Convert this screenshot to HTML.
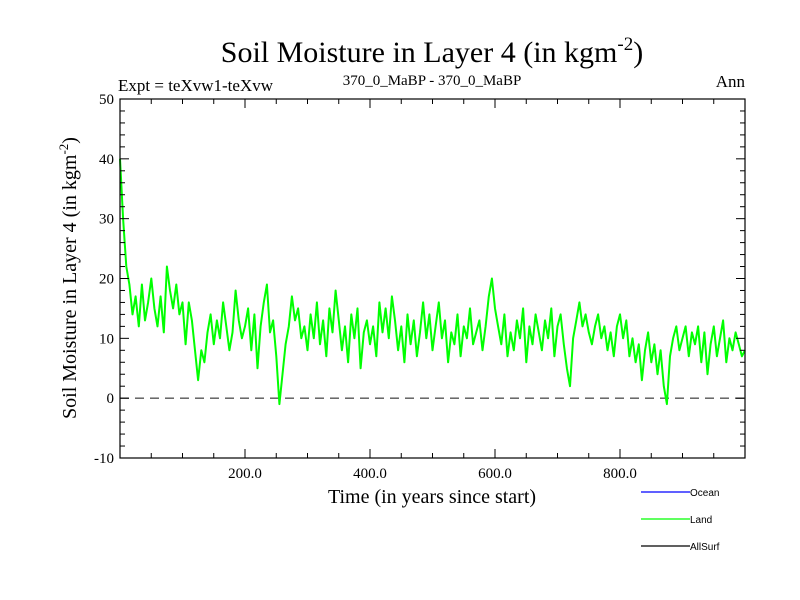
<!DOCTYPE html>
<html><head><meta charset="utf-8"><style>
body{margin:0;background:#fff}
svg{display:block}
</style></head><body>
<svg id="chart" width="800" height="600" xmlns="http://www.w3.org/2000/svg" font-family="'Liberation Serif',serif">
<rect width="800" height="600" fill="#fff"/>
<text x="432" y="62" font-size="30" text-anchor="middle">Soil Moisture in Layer 4 (in kgm<tspan dy="-12" font-size="19">-2</tspan><tspan dy="12">)</tspan></text>
<text x="118" y="91" font-size="17">Expt = teXvw1-teXvw</text>
<text x="432" y="85" font-size="15" text-anchor="middle">370_0_MaBP - 370_0_MaBP</text>
<text x="745" y="87" font-size="17" text-anchor="end">Ann</text>
<g id="plot"></g>
<text x="432" y="503" font-size="20" text-anchor="middle">Time (in years since start)</text>
<text transform="translate(76,278) rotate(-90)" font-size="20" text-anchor="middle">Soil Moisture in Layer 4 (in kgm<tspan dy="-8" font-size="13">-2</tspan><tspan dy="8">)</tspan></text>
<g font-family="'Liberation Sans',sans-serif" font-size="10">
<line x1="641" y1="492" x2="690" y2="492" stroke="#0000ff" stroke-width="1.2"/>
<text x="690" y="496">Ocean</text>
<line x1="641" y1="519" x2="690" y2="519" stroke="#00ff00" stroke-width="1.2"/>
<text x="690" y="523">Land</text>
<line x1="641" y1="546" x2="690" y2="546" stroke="#000" stroke-width="1.2"/>
<text x="690" y="550">AllSurf</text>
</g>
</svg>
<script>
const years = [];
for (let i = 0; i <= 200; i++) years.push(i * 5);
const landValues = [40,30,22,19,14,17,12,19,13,16,20,15,12,17,11,22,18,15,19,14,
16,9,16,13,8,3,8,6,11,14,9,13,10,16,12,8,11,18,13,10,
12,15,8,14,5,12,16,19,11,13,7,-1,4,9,12,17,13,15,10,12,
8,14,10,16,9,13,7,15,11,18,13,8,12,6,14,10,15,5,11,13,
9,12,7,16,11,15,10,17,13,8,12,6,14,9,13,7,11,16,10,14,
8,12,16,10,13,6,11,9,14,7,12,10,15,9,11,13,8,12,17,20,
15,12,9,14,7,11,8,13,10,15,6,12,9,14,11,8,13,10,15,7,
12,14,9,5,2,10,13,16,12,14,11,9,12,14,10,12,8,11,7,12,
14,10,13,7,10,6,9,3,8,11,6,9,4,8,2,-1,7,10,12,8,
10,12,7,11,9,12,6,11,4,9,12,7,10,13,6,10,8,11,9,7,8];
const xTicks = [200, 400, 600, 800];
const xTickLabels = ["200.0", "400.0", "600.0", "800.0"];
const yTicks = [-10, 0, 10, 20, 30, 40, 50];
const yTickLabels = ["-10", "0", "10", "20", "30", "40", "50"];

const X0 = 120, X1 = 745, Y0 = 458, Y1 = 99;
const xs = v => X0 + (v - 0) / 1000 * (X1 - X0);
const ys = v => Y0 - (v + 10) / 60 * (Y0 - Y1);
const NS = "http://www.w3.org/2000/svg";
const plot = document.getElementById("plot");
function mk(tag, attrs) {
  const e = document.createElementNS(NS, tag);
  for (const k in attrs) e.setAttribute(k, attrs[k]);
  plot.appendChild(e);
  return e;
}
// zero line
const zl = mk("line", {x1: X0, x2: X1, y1: ys(0), y2: ys(0), stroke: "#555", "stroke-width": 1.3, "stroke-dasharray": "9,6"});


// series
let d = "";
landValues.forEach((v, i) => { d += (i ? "L" : "M") + xs(years[i]).toFixed(1) + " " + ys(v).toFixed(1); });
const ln = mk("path", {d: d, fill: "none", stroke: "#00ff00", "stroke-width": 2, "stroke-linejoin": "round"});


// frame
const fr = mk("rect", {x: X0, y: Y1, width: X1 - X0, height: Y0 - Y1, fill: "none", stroke: "#000", "stroke-width": 1.2});


// y minor/major ticks
for (let v = -10; v <= 50; v += 2) {
  const major = v % 10 === 0;
  const L = major ? 9 : 5;
  const t1 = mk("line", {x1: X0, x2: X0 + L, y1: ys(v), y2: ys(v), stroke: "#000", "stroke-width": 1});
  
  
  const t2 = mk("line", {x1: X1, x2: X1 - L, y1: ys(v), y2: ys(v), stroke: "#000", "stroke-width": 1});
  
  
}
yTicks.forEach((v, i) => {
  const t = mk("text", {x: X0 - 6, y: ys(v) + 5, "font-size": 15, "text-anchor": "end"});
  t.textContent = yTickLabels[i];
  
  
});
for (let v = 50; v < 1000; v += 50) {
  const major = v % 200 === 0;
  const L = major ? 9 : 5;
  const t1 = mk("line", {x1: xs(v), x2: xs(v), y1: Y0, y2: Y0 - L, stroke: "#000", "stroke-width": 1});
  
  
  const t2 = mk("line", {x1: xs(v), x2: xs(v), y1: Y1, y2: Y1 + L, stroke: "#000", "stroke-width": 1});
  
  
}
xTicks.forEach((v, i) => {
  const t = mk("text", {x: xs(v), y: Y0 + 20, "font-size": 15, "text-anchor": "middle"});
  t.textContent = xTickLabels[i];
  
  
});
</script>
</body></html>
